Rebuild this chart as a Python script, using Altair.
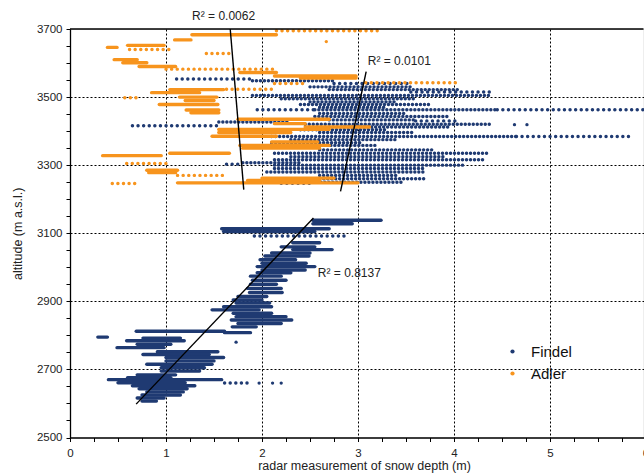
import altair as alt
import pandas as pd

NAVY = "#1F3A72"
ORANGE = "#F7941D"
FONT = "Liberation Sans"

# ---------------- data: horizontal runs of radar points (altitude, x start, x end) -------------
# Findel, upper cloud (rows of close dots)
findel_row_alt = [3548, 3530, 3522, 3505, 3495, 3486, 3478, 3470, 3463, 3452, 3443, 3433, 3427,
                  3420, 3412, 3404, 3396, 3384, 3375, 3366, 3358, 3345, 3335, 3325, 3316, 3307,
                  3300, 3290, 3280, 3270, 3260, 3250]
findel_row_x0 = [1.90, 2.50, 2.70, 1.90, 2.20, 2.50, 2.40, 2.60, 2.55, 2.60, 2.55, 2.70, 1.55,
                 2.45, 2.85, 2.40, 2.60, 2.10, 2.30, 2.10, 2.55, 2.60, 2.13, 2.30, 2.13, 1.80,
                 2.13, 2.13, 2.05, 2.60, 2.60, 2.53]
findel_row_x1 = [2.75, 3.55, 4.05, 4.38, 3.60, 3.40, 3.75, 3.30, 4.45, 3.50, 3.95, 3.60, 2.30,
                 4.40, 3.95, 3.30, 3.60, 4.65, 3.40, 3.05, 3.20, 3.80, 4.38, 3.90, 4.30, 2.40,
                 4.10, 3.70, 3.68, 3.40, 3.70, 3.45]

# Findel, lower cloud (dense runs)
findel_dense_alt = [3138, 3128, 3113, 3105, 3072, 3060, 3052, 3042, 3033, 3022, 3012, 3002, 2992,
                    2984, 2974, 2962, 2950, 2938, 2926, 2914, 2904, 2895, 2884, 2875, 2865, 2855,
                    2845, 2835, 2825, 2812, 2808, 2795, 2792, 2784, 2774, 2764, 2752, 2744, 2735,
                    2725, 2715, 2705, 2695, 2684, 2676, 2670, 2661, 2652, 2643, 2634, 2625, 2616, 2607]
findel_dense_x0 = [2.53, 2.53, 1.58, 1.60, 2.32, 2.20, 2.32, 2.10, 2.03, 1.98, 2.00, 1.95, 2.00,
                   1.95, 1.88, 1.90, 1.88, 1.85, 1.87, 1.75, 1.70, 1.73, 1.60, 1.48, 1.70, 1.73,
                   1.68, 1.75, 1.69, 0.69, 1.61, 0.29, 0.76, 0.59, 0.70, 0.49, 0.91, 0.76, 1.00,
                   1.00, 0.80, 0.95, 0.95, 0.70, 0.60, 0.40, 0.50, 0.65, 0.72, 0.80, 0.75, 0.70, 0.75]
findel_dense_x1 = [3.24, 2.94, 2.70, 2.55, 2.60, 2.55, 2.73, 2.50, 2.49, 2.35, 2.46, 2.55, 2.45,
                   2.30, 2.20, 2.25, 2.15, 2.20, 2.21, 2.05, 2.00, 2.08, 2.10, 1.97, 2.10, 2.25,
                   2.31, 2.20, 1.94, 1.61, 1.88, 0.39, 1.15, 1.19, 1.05, 0.98, 1.54, 1.45, 1.60,
                   1.50, 1.48, 1.40, 1.35, 1.10, 1.05, 1.58, 1.20, 1.30, 1.22, 1.18, 1.15, 0.98, 0.90]

# Findel, sparse dotted runs
findel_dot_alt = [3553, 3540, 3515, 3463, 3463, 3416, 3384, 3430, 3303, 3247, 3092, 2660]
findel_dot_x0 = [1.11, 2.75, 3.55, 1.95, 4.45, 0.65, 4.65, 3.60, 1.63, 2.20, 1.92, 1.61]
findel_dot_x1 = [1.90, 3.55, 4.39, 2.55, 5.97, 1.55, 5.87, 4.06, 1.80, 2.53, 2.88, 1.89]

# Adler, dense runs
adler_dense_alt = [3683, 3668, 3652, 3646, 3610, 3601, 3590, 3572, 3562, 3556, 3522, 3513, 3500,
                   3490, 3478, 3462, 3454, 3435, 3422, 3412, 3405, 3396, 3385, 3368, 3358, 3350,
                   3335, 3328, 3285, 3278, 3262, 3255, 3248]
adler_dense_x0 = [1.27, 1.09, 0.60, 0.39, 0.46, 0.55, 0.72, 1.77, 2.13, 2.40, 1.04, 0.85, 1.14,
                  1.20, 0.93, 1.21, 1.26, 1.75, 2.13, 2.45, 1.55, 1.55, 1.48, 2.10, 1.77, 1.80,
                  1.04, 0.34, 0.80, 0.82, 2.00, 1.85, 1.12]
adler_dense_x1 = [2.15, 1.26, 0.98, 0.49, 0.70, 0.80, 1.10, 2.15, 2.98, 2.98, 1.60, 1.35, 1.53,
                  1.50, 1.54, 1.55, 1.55, 2.70, 2.45, 3.12, 2.70, 2.30, 2.15, 2.58, 2.70, 2.60,
                  1.66, 0.95, 1.12, 1.10, 2.75, 2.60, 3.00]

# Adler, sparse dotted runs
adler_dot_alt = [3695, 3640, 3628, 3582, 3540, 3542, 3523, 3498, 3305, 3270, 3246]
adler_dot_x0 = [2.15, 0.62, 1.42, 1.00, 2.13, 3.08, 1.63, 0.57, 0.59, 1.12, 0.44]
adler_dot_x1 = [3.20, 1.05, 1.69, 2.13, 2.45, 4.06, 2.13, 0.70, 1.00, 1.60, 0.70]

# isolated points
pt_series = ["Findel", "Findel", "Findel", "Findel", "Findel", "Findel", "Adler"]
pt_x = [1.73, 1.97, 2.11, 2.20, 4.63, 4.76, 2.67]
pt_alt = [2780, 2660, 2660, 2660, 3419, 3419, 3663]

# regression lines (endpoints)
fit_x0 = [1.669, 3.085, 0.689]
fit_y0 = [3700, 3575, 2598]
fit_x1 = [1.810, 2.818, 2.536]
fit_y1 = [3228, 3223, 3145]

r2_text = ["R² = 0.0062", "R² = 0.0101", "R² = 0.8137"]
r2_x = [1.60, 3.43, 2.91]
r2_alt = [3725, 3595, 2972]

# ---------------- chart -------------------------------------------------------------
XMAX = 573.5 / 96
xscale = alt.Scale(domain=[0, XMAX], nice=False, zero=False)
yscale = alt.Scale(domain=[2500, 3700], nice=False, zero=False)

x_vals = [i * 0.25 for i in range(0, 25)]
y_vals = list(range(2500, 3701, 50))

xaxis = alt.Axis(
    values=x_vals,
    title="radar measurement of snow depth (m)",
    labelExpr="datum.value % 1 == 0 ? format(datum.value, 'd') : ''",
    grid=True,
    gridColor="#000000",
    gridDash=[2, 2],
    gridWidth=1,
    gridOpacity={"condition": {"test": "datum.value % 1 == 0 && datum.value > 0", "value": 1}, "value": 0},
    tickSize=4, tickColor="#000000", tickWidth=1,
    domainColor="#000000", domainWidth=1.3,
    labelFont=FONT, labelFontSize=11.5, labelColor="#222222", labelPadding=6,
    titleFont=FONT, titleFontSize=12.5, titleFontWeight="normal", titleColor="#222222",
    titlePadding=0, titleX=294,
    labelFlush=False, labelOverlap=False,
)
yaxis = alt.Axis(
    values=y_vals,
    title="altitude (m a.s.l.)",
    labelExpr="(datum.value - 2500) % 200 == 0 ? format(datum.value, 'd') : ''",
    grid=True,
    gridColor="#000000",
    gridDash=[2, 2],
    gridWidth=1,
    gridOpacity={"condition": {"test": "(datum.value - 2500) % 200 == 0 && datum.value > 2500 && datum.value < 3700", "value": 1}, "value": 0},
    tickSize=4, tickColor="#000000", tickWidth=1,
    domainColor="#000000", domainWidth=1.3,
    labelFont=FONT, labelFontSize=11.5, labelColor="#222222", labelPadding=4,
    titleFont=FONT, titleFontSize=12.5, titleFontWeight="normal", titleColor="#222222",
    titlePadding=12,
    labelFlush=False, labelOverlap=False,
)

def runs(alts, x0s, x1s):
    return pd.DataFrame({"alt": alts, "x0": x0s, "x1": x1s})

def run_layer(df, color, width, dash=None):
    kw = dict(color=color, strokeWidth=width, strokeCap="round")
    if dash is not None:
        kw["strokeDash"] = dash
    return alt.Chart(df).mark_rule(**kw).encode(
        x=alt.X("x0:Q", scale=xscale, axis=xaxis),
        x2="x1:Q",
        y=alt.Y("alt:Q", scale=yscale, axis=yaxis),
    )

findel_rows = run_layer(runs(findel_row_alt, findel_row_x0, findel_row_x1), NAVY, 3.4, [0.1, 3.9])
findel_dense = run_layer(runs(findel_dense_alt, findel_dense_x0, findel_dense_x1), NAVY, 3.4)
findel_dot = run_layer(runs(findel_dot_alt, findel_dot_x0, findel_dot_x1), NAVY, 3.4, [0.1, 5.5])
adler_dense = run_layer(runs(adler_dense_alt, adler_dense_x0, adler_dense_x1), ORANGE, 3.4)
adler_dot = run_layer(runs(adler_dot_alt, adler_dot_x0, adler_dot_x1), ORANGE, 3.4, [0.1, 5.5])

pts = alt.Chart(pd.DataFrame({"series": pt_series, "x": pt_x, "alt": pt_alt})).mark_circle(
    size=11, opacity=1).encode(
    x=alt.X("x:Q", scale=xscale, axis=xaxis),
    y=alt.Y("alt:Q", scale=yscale, axis=yaxis),
    color=alt.Color("series:N",
                    scale=alt.Scale(domain=["Findel", "Adler"], range=[NAVY, ORANGE]),
                    legend=alt.Legend(title=None, orient="none", legendX=435, legendY=315,
                                      symbolType="circle", symbolSize=18, symbolOpacity=1,
                                      labelFont=FONT, labelFontSize=15, labelColor="#111111",
                                      labelOffset=11, rowPadding=6, padding=0)),
)

fits = alt.Chart(pd.DataFrame({"x0": fit_x0, "y0": fit_y0, "x1": fit_x1, "y1": fit_y1})).mark_rule(
    color="#000000", strokeWidth=1.4).encode(
    x=alt.X("x0:Q", scale=xscale, axis=xaxis),
    x2="x1:Q",
    y=alt.Y("y0:Q", scale=yscale, axis=yaxis),
    y2="y1:Q",
)

labels = alt.Chart(pd.DataFrame({"t": r2_text, "x": r2_x, "alt": r2_alt})).mark_text(
    font=FONT, fontSize=12, color="#222222", align="center", baseline="alphabetic").encode(
    x=alt.X("x:Q", scale=xscale, axis=xaxis),
    y=alt.Y("alt:Q", scale=yscale, axis=yaxis),
    text="t:N",
)

top_border = alt.Chart(pd.DataFrame({"alt": [3700]})).mark_rule(color="#000000", strokeWidth=1.3).encode(
    y=alt.Y("alt:Q", scale=yscale, axis=yaxis),
    x=alt.value(0),
    x2=alt.value(573.5),
)

six_label = alt.Chart(pd.DataFrame({"t": ["6"], "x": [6.0], "alt": [2500]})).mark_text(
    font=FONT, fontSize=11.5, color="#222222", align="center", baseline="top", dy=10).encode(
    x=alt.X("x:Q", scale=xscale, axis=xaxis),
    y=alt.Y("alt:Q", scale=yscale, axis=yaxis),
    text="t:N",
)

chart = alt.layer(
    findel_rows, findel_dense, findel_dot, adler_dense, adler_dot, pts, fits, labels, top_border, six_label
).properties(
    width=573.5, height=408.5,
    autosize=alt.AutoSizeParams(type="none"),
    padding={"left": 70, "top": 29, "right": 0, "bottom": 37},
).configure_view(stroke=None).configure(background="white")

chart.save("out.html", embed_options={"renderer": "svg", "actions": False})
